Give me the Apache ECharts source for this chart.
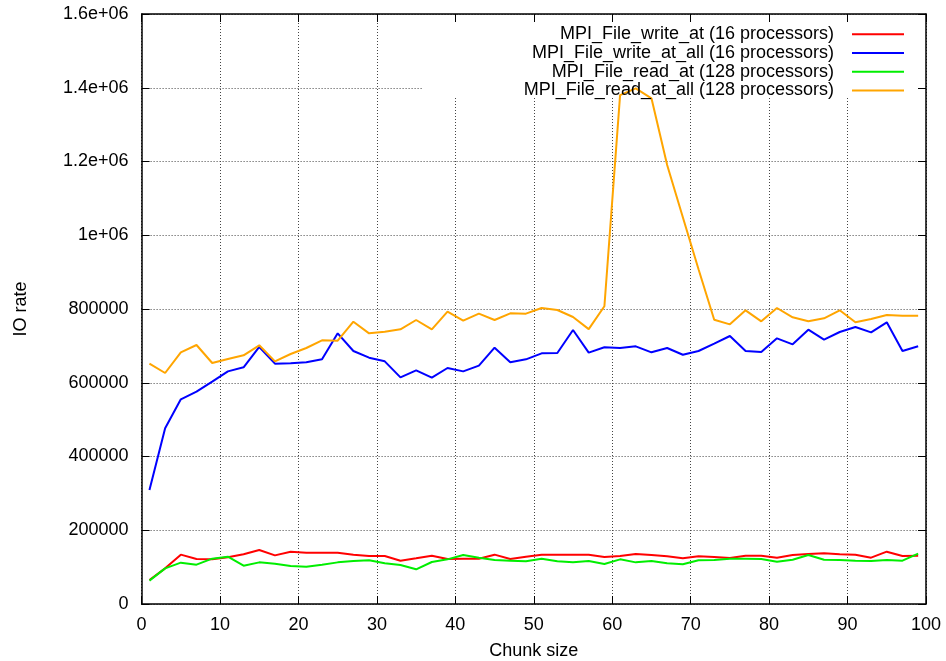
<!DOCTYPE html>
<html>
<head>
<meta charset="utf-8">
<script src="https://cdn.jsdelivr.net/npm/echarts@6/dist/echarts.min.js"></script>
<style>
html,body{margin:0;padding:0;background:#fff;}
#chart{width:946px;height:661px;}
</style>
</head>
<body>
<div id="chart"></div>
<script>
const chunkSizes = [1,3,5,7,9,11,13,15,17,19,21,23,25,27,29,31,33,35,37,39,41,43,45,47,49,51,53,55,57,59,61,63,65,67,69,71,73,75,77,79,81,83,85,87,89,91,93,95,97,99];

const writeAt = [65100,96700,133800,122000,121100,126500,134700,146400,131900,141900,139200,139200,139200,133800,130200,130200,117500,123800,131100,122000,122900,122900,133800,122000,128400,133800,133800,133800,133800,127500,130200,135600,132900,129300,123800,129300,127500,124700,131100,131100,125600,132900,135600,137400,134700,133800,125600,141900,130200,131100];

const writeAtAll = [309200,476400,555000,575800,603000,630900,641800,697000,651800,652700,655400,663500,734000,686100,668000,658100,614700,633700,613700,640000,630900,646300,695100,655400,663500,679800,680700,743000,681600,696100,694200,698800,682500,694200,676000,686100,706000,726800,686100,683400,720500,704200,744000,716800,737600,751200,736700,763900,686100,698800];

const readAt = [63300,96700,112100,106700,122900,128400,104000,112900,109400,103100,101200,106700,112900,116600,118400,110300,105800,94000,113900,121100,132900,125600,119300,117500,115700,122900,115700,112900,116600,108500,121100,112900,116600,110300,107600,118400,119300,122900,122900,122000,114700,120200,132900,120200,119300,117500,116600,119300,117500,136500];

const readAtAll = [651700,626400,682600,702400,653600,664400,674400,701500,658100,678000,694200,715000,714100,765600,734000,738500,744900,770200,744900,792700,768300,787300,770200,788300,787300,802700,797300,778300,745500,807500,1380000,1398500,1371400,1190500,1049000,908000,771000,758400,796400,766600,802700,777400,766600,774700,796400,763900,772900,783700,781900,781900];

const seriesNames = [
  'MPI_File_write_at (16 processors)',
  'MPI_File_write_at_all (16 processors)',
  'MPI_File_read_at (128 processors)',
  'MPI_File_read_at_all (128 processors)'
];
const seriesColors = ['#ff0000', '#0000ff', '#00ee00', '#ffa500'];
const seriesValues = [writeAt, writeAtAll, readAt, readAtAll];

const xTickLabels = ['0','10','20','30','40','50','60','70','80','90','100'];
const yTickLabels = ['0','200000','400000','600000','800000','1e+06','1.2e+06','1.4e+06','1.6e+06'];

const FONT = '"Liberation Sans", Arial, Helvetica, sans-serif';
const gridLine = { show: true, lineStyle: { color: '#444', type: [1, 2], width: 1 } };
const axisLine = { show: true, onZero: false, lineStyle: { color: '#000', width: 1.5 } };
const tick = { show: true, inside: true, length: 8, lineStyle: { color: '#000', width: 1 } };

const chart = echarts.init(document.getElementById('chart'), null, { renderer: 'canvas' });
chart.setOption({
  animation: false,
  backgroundColor: '#fff',
  textStyle: { fontFamily: FONT },
  grid: { left: 141.6, right: 20, top: 14, bottom: 57, containLabel: false, outerBoundsMode: 'none' },
  graphic: [{
    type: 'rect', z: 1, silent: true,
    shape: { x: 423, y: 15, width: 502, height: 83 },
    style: { fill: '#fff' }
  }],
  legend: {
    orient: 'vertical', right: 37, top: 20, align: 'right',
    icon: 'rect', itemWidth: 52, itemHeight: 2, itemGap: 0,
    textStyle: { fontFamily: FONT, fontSize: 18, color: '#000', lineHeight: 18.7, padding: [0, 13, 0, 0] },
    data: seriesNames.map(function (n) { return { name: n }; })
  },
  xAxis: [{
    type: 'value', min: 0, max: 100, interval: 10, position: 'bottom', z: 0,
    axisLine: axisLine, axisTick: tick, splitLine: gridLine,
    axisLabel: { fontFamily: FONT, fontSize: 18, color: '#000', margin: 12,
      formatter: function (v) { return xTickLabels[Math.round(v / 10)]; } },
    name: 'Chunk size', nameLocation: 'middle', nameGap: 38,
    nameTextStyle: { fontFamily: FONT, fontSize: 18, color: '#000' }
  }, {
    type: 'value', min: 0, max: 100, interval: 10, position: 'top', z: 3,
    axisLine: axisLine, axisTick: tick, splitLine: { show: false }, axisLabel: { show: false }
  }],
  yAxis: [{
    type: 'value', min: 0, max: 1600000, interval: 200000, position: 'left', z: 0,
    axisLine: axisLine, axisTick: tick, splitLine: gridLine,
    axisLabel: { fontFamily: FONT, fontSize: 18, color: '#000', margin: 13,
      formatter: function (v) { return yTickLabels[Math.round(v / 200000)]; } },
    name: 'IO rate', nameLocation: 'middle', nameGap: 112,
    nameTextStyle: { fontFamily: FONT, fontSize: 18, color: '#000' }
  }, {
    type: 'value', min: 0, max: 1600000, interval: 200000, position: 'right', z: 3,
    axisLine: axisLine, axisTick: tick, splitLine: { show: false }, axisLabel: { show: false }
  }],
  series: seriesNames.map(function (name, i) {
    return {
      name: name, type: 'line', xAxisIndex: 0, yAxisIndex: 0, z: 2,
      symbol: 'none', silent: true,
      itemStyle: { color: seriesColors[i] },
      lineStyle: { color: seriesColors[i], width: 2 },
      data: chunkSizes.map(function (x, j) { return [x, seriesValues[i][j]]; })
    };
  })
});
</script>
</body>
</html>
